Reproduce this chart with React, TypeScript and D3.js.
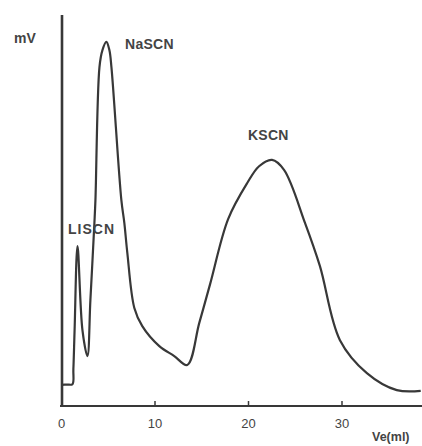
import { scaleLinear, line, curveCatmullRom } from 'd3'

// elution volume (ml) and detector signal (mV, arbitrary units)
const volume = [0, 0.6, 1.17, 1.27, 1.4, 1.71, 2.24, 2.77, 3.09, 3.52, 3.63, 4.06, 4.38, 4.8, 5.12, 5.34, 6.4, 6.72, 7.04, 7.79, 8.64, 10.46, 12.06, 13.45, 14.73, 15.9, 17.82, 19.85, 21.13, 22.52, 23.8, 26.04, 27.64, 29.78, 32.66, 35.86, 38.42]
const signal = [5.7, 5.8, 5.9, 10, 20.5, 43.2, 20.5, 13.5, 28.6, 49.5, 55.7, 91.6, 96.2, 98.4, 96.2, 91.6, 55.7, 49.5, 41.4, 26.5, 21.6, 16.2, 13.5, 11.1, 22.4, 33, 50.5, 60.2, 64.8, 66.5, 63.8, 49.5, 37.8, 17.8, 8.9, 4.3, 4.1]

const xTicks = [0, 10, 20, 30]
const xTickLabels = ['0', '10', '20', '30']

const peaks = [
  { name: 'LISCN', v: 0.7, s: 46.5, spacing: 1 },
  { name: 'NaSCN', v: 6.79, s: 96.5, spacing: 0.3 },
  { name: 'KSCN', v: 19.95, s: 71.9, spacing: 0.2 },
]

const W = 422
const H = 446
const ink = '#383838'

const App = () => {
  const x = scaleLinear().domain([0, 30]).range([61.5, 342])
  const y = scaleLinear().domain([0, 100]).range([406, 36])

  const pts = volume.map((v, i) => [v, signal[i]] as [number, number])
  const path = line<[number, number]>()
    .x(d => x(d[0]))
    .y(d => y(d[1]))
    .curve(curveCatmullRom.alpha(0.5))(pts)

  const font = 'Liberation Sans, Arial, sans-serif'

  return (
    <svg width={W} height={H} style={{ position: 'absolute', left: 0, top: 0, background: '#fff' }}>
      {/* axes */}
      <line x1={62} x2={62} y1={15} y2={y(0)} stroke={ink} strokeWidth={2.6} />
      <line x1={60} x2={W} y1={y(0)} y2={y(0)} stroke={ink} strokeWidth={2.2} />
      {xTicks.slice(1).map(t => (
        <line key={t} x1={x(t)} x2={x(t)} y1={y(0)} y2={y(0) - 5} stroke={ink} strokeWidth={1.5} />
      ))}
      {xTicks.map((t, i) => (
        <text key={t} x={x(t)} y={428} textAnchor="middle" fontFamily={font} fontSize={13} fill="#444">
          {xTickLabels[i]}
        </text>
      ))}
      <text x={372} y={441} fontFamily={font} fontSize={12.5} fontWeight="bold" fill="#444">Ve(ml)</text>
      <text x={14} y={43} fontFamily={font} fontSize={14} fontWeight="bold" fill="#444">mV</text>

      {/* trace */}
      <path d={path ?? ''} fill="none" stroke={ink} strokeWidth={2.2} strokeLinejoin="round" />

      {peaks.map(p => (
        <text key={p.name} x={x(p.v)} y={y(p.s)} fontFamily={font} fontSize={14} fontWeight="bold" fill="#444" letterSpacing={p.spacing}>
          {p.name}
        </text>
      ))}
    </svg>
  )
}

export default App
